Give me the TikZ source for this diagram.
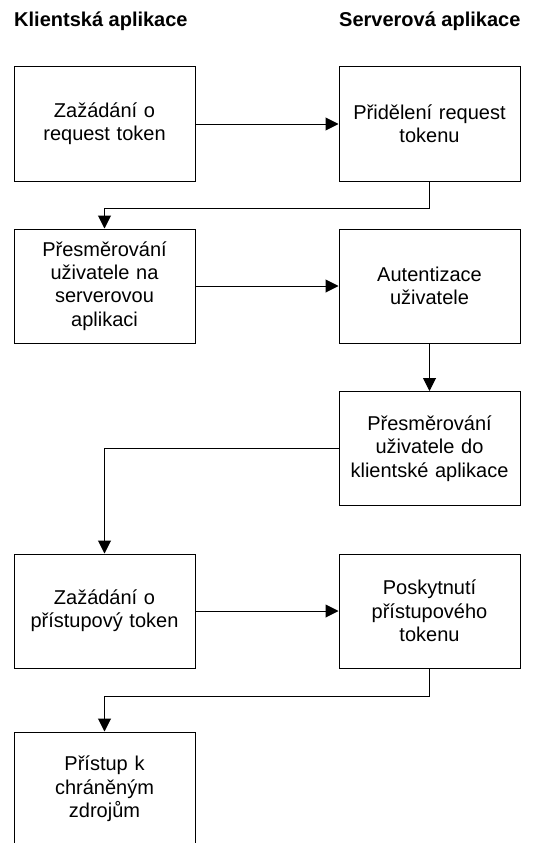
\documentclass[tikz,border=0pt]{standalone}
\usepackage{fontspec}
\setmainfont{Liberation Sans}
\usetikzlibrary{arrows.meta}

\tikzset{
  stepbox/.style={draw,line width=1pt,minimum width=181pt,minimum height=114pt,
    inner sep=0pt,text width=175pt,align=center,font=\fontsize{20}{23.3}\selectfont},
  coltitle/.style={anchor=base west,inner sep=0pt,font=\fontsize{20}{23}\selectfont\bfseries},
  flow/.style={line width=1pt,-{Triangle[length=13pt,width=13pt]}}
}

\begin{document}
\begin{tikzpicture}[x=1pt,y=-1pt]
  \clip (0,0) rectangle (544,843);
  \fill[white] (0,0) rectangle (544,843);

  % column titles
  \node[coltitle] (klient) at (14,27) {Klientská aplikace};
  \node[coltitle] (server) at (339,27) {Serverová aplikace};

  % left column
  \node[stepbox] (zadreq) at (104.5,124) {Zažádání o\\request token};
  \node[stepbox] (presmsrv) at (104.5,286) {Přesměrování\\uživatele na\\serverovou\\aplikaci};
  \node[stepbox] (zadacc) at (104.5,611) {Zažádání o\\přístupový token};
  \node[stepbox] (pristup) at (104.5,789) {Přístup k\\chráněným\\zdrojům};

  % right column
  \node[stepbox] (pridreq) at (429.5,124) {Přidělení request\\tokenu};
  \node[stepbox] (autent) at (429.5,286) {Autentizace\\uživatele};
  \node[stepbox] (presmkl) at (429.5,448.5) {Přesměrování\\uživatele do\\klientské aplikace};
  \node[stepbox] (poskacc) at (429.5,611) {Poskytnutí\\přístupového\\tokenu};

  % connectors
  \draw[flow] (zadreq.east) -- (pridreq.west);
  \draw[flow] (pridreq.south) -- ++(0,27) -| (presmsrv.north);
  \draw[flow] (presmsrv.east) -- (autent.west);
  \draw[flow] (autent.south) -- (presmkl.north);
  \draw[flow] (presmkl.west) -| (zadacc.north);
  \draw[flow] (zadacc.east) -- (poskacc.west);
  \draw[flow] (poskacc.south) -- ++(0,28) -| (pristup.north);
\end{tikzpicture}
\end{document}
